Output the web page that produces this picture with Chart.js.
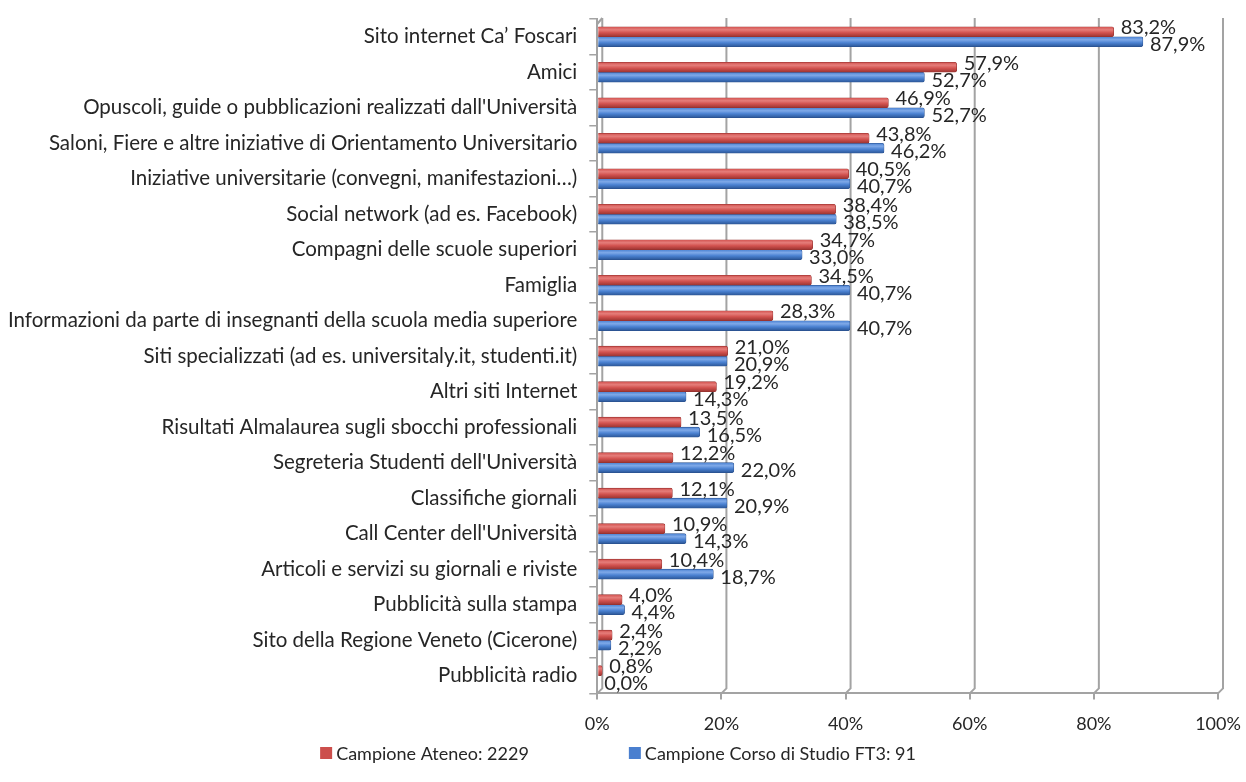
<!DOCTYPE html>
<html><head><meta charset="utf-8">
<script src="https://cdn.jsdelivr.net/npm/chart.js@4/dist/chart.umd.min.js"></script>
<style>html,body{margin:0;padding:0;background:#fff}#wrap{width:1246px;height:782px}</style>
</head><body><div id="wrap"><canvas id="c"></canvas></div>
<script>
const categories = [
  "Sito internet Ca’ Foscari",
  "Amici",
  "Opuscoli, guide o pubblicazioni realizzati dall'Università",
  "Saloni, Fiere e altre iniziative di Orientamento Universitario",
  "Iniziative universitarie (convegni, manifestazioni…)",
  "Social network (ad es. Facebook)",
  "Compagni delle scuole superiori",
  "Famiglia",
  "Informazioni da parte di insegnanti della scuola media superiore",
  "Siti specializzati (ad es. universitaly.it, studenti.it)",
  "Altri siti Internet",
  "Risultati Almalaurea sugli sbocchi professionali",
  "Segreteria Studenti dell'Università",
  "Classifiche giornali",
  "Call Center dell'Università",
  "Articoli e servizi su giornali e riviste",
  "Pubblicità sulla stampa",
  "Sito della Regione Veneto (Cicerone)",
  "Pubblicità radio"
];
const ateneo = [83.2,57.9,46.9,43.8,40.5,38.4,34.7,34.5,28.3,21.0,19.2,13.5,12.2,12.1,10.9,10.4,4.0,2.4,0.8];
const ft3    = [87.9,52.7,52.7,46.2,40.7,38.5,33.0,40.7,40.7,20.9,14.3,16.5,22.0,20.9,14.3,18.7,4.4,2.2,0.0];
const seriesNames = ["Campione Ateneo: 2229","Campione Corso di Studio FT3: 91"];
const xTicks = [0,20,40,60,80,100];

const FONT = "Lato";
const TXT = '#262626';
const GRID = '#a3a3a3';
const D = 5; // 3D depth offset
const BAR = 10;
const fmt = v => v.toFixed(1).replace('.', ',') + '%';

const palettes = [
  { base: '#cc4f4c', top: '#e57d7a', mid: '#d2524f', bot: '#9c3431', border: '#93302e' },
  { base: '#4a7fcf', top: '#7fa9e8', mid: '#4b82d2', bot: '#2b5697', border: '#2a508d' }
];

function barFill(c) {
  const p = palettes[c.datasetIndex];
  const chart = c.chart;
  const ys = chart.scales && chart.scales.y;
  if (!ys || !chart.chartArea || c.dataIndex === undefined) return p.base;
  const yc = ys.getPixelForValue(c.dataIndex) + (c.datasetIndex === 0 ? -BAR/2 : BAR/2);
  if (!isFinite(yc)) return p.base;
  const g = chart.ctx.createLinearGradient(0, yc - BAR/2, 0, yc + BAR/2);
  g.addColorStop(0, p.mid);
  g.addColorStop(0.3, p.top);
  g.addColorStop(0.6, p.mid);
  g.addColorStop(1, p.bot);
  return g;
}

const frame3d = {
  id: 'frame3d',
  beforeDatasetsDraw(chart) {
    const ctx = chart.ctx, a = chart.chartArea, xs = chart.scales.x;
    ctx.save();
    ctx.strokeStyle = GRID;
    ctx.lineWidth = 2;
    ctx.lineJoin = 'round';
    xTicks.forEach(v => {
      const x = xs.getPixelForValue(v);
      ctx.beginPath();
      ctx.moveTo(x + D, a.top - 1);
      ctx.lineTo(x + D, a.bottom - D);
      ctx.lineTo(x, a.bottom);
      ctx.stroke();
    });
    const x0 = xs.getPixelForValue(0);
    ctx.beginPath();
    ctx.moveTo(x0, a.top + D);
    ctx.lineTo(x0 + D, a.top - 1);
    ctx.stroke();
    ctx.restore();
  }
};

const labelPlugin = {
  id: 'vals',
  afterDatasetsDraw(chart) {
    const ctx = chart.ctx;
    ctx.save();
    ctx.font = '20px ' + FONT;
    ctx.fillStyle = TXT;
    ctx.textBaseline = 'middle';
    ctx.textAlign = 'left';
    chart.data.datasets.forEach((ds, di) => {
      const meta = chart.getDatasetMeta(di);
      meta.data.forEach((el, i) => {
        const dy = di === 0 ? -4 : 3;
        ctx.fillText(fmt(ds.data[i]), el.x + 7, el.y + dy);
      });
    });
    ctx.restore();
  }
};

const legendPlugin = {
  id: 'legend2',
  afterDraw(chart) {
    const ctx = chart.ctx;
    ctx.save();
    ctx.font = '18px ' + FONT;
    ctx.textBaseline = 'middle';
    ctx.textAlign = 'left';
    const box = 12, gapBT = 4, gapItems = 100, y = 753;
    const widths = seriesNames.map(s => box + gapBT + ctx.measureText(s).width);
    const total = widths[0] + gapItems + widths[1];
    let x = 618 - total / 2;
    seriesNames.forEach((s, i) => {
      ctx.fillStyle = palettes[i].base;
      ctx.fillRect(x, y - box / 2, box, box);
      ctx.fillStyle = TXT;
      ctx.fillText(s, x + box + gapBT, y + 1);
      x += widths[i] + gapItems;
    });
    ctx.restore();
  }
};

new Chart(document.getElementById('c'), {
  type: 'bar',
  data: {
    labels: categories,
    datasets: [
      { label: seriesNames[0], data: ateneo, backgroundColor: barFill, borderColor: palettes[0].border, borderWidth: 0.6, barThickness: BAR, borderRadius: 2, borderSkipped: 'start' },
      { label: seriesNames[1], data: ft3, backgroundColor: barFill, borderColor: palettes[1].border, borderWidth: 0.6, barThickness: BAR, borderRadius: 2, borderSkipped: 'start' }
    ]
  },
  options: {
    indexAxis: 'y',
    responsive: true,
    maintainAspectRatio: false,
    animation: false,
    layout: { padding: { top: 19, right: 28, left: -4, bottom: 33 } },
    plugins: {
      legend: { display: false },
      tooltip: { enabled: false }
    },
    scales: {
      x: {
        min: 0, max: 100,
        afterBuildTicks: s => { s.ticks = xTicks.map(v => ({ value: v })); },
        afterFit: s => { s.paddingLeft = 0; s.paddingRight = 0; },
        ticks: { callback: v => v + '%', font: { family: FONT, size: 18 }, color: TXT, padding: 14 },
        grid: { drawOnChartArea: false, color: GRID, lineWidth: 2, tickLength: 6, tickColor: GRID },
        border: { color: GRID, width: 2 }
      },
      y: {
        afterFit: s => { s.paddingTop = 0; s.paddingBottom = 0; },
        ticks: { font: { family: FONT, size: 20.5 }, color: TXT, padding: 12, autoSkip: false },
        grid: { offset: true, drawOnChartArea: false, tickLength: 8, color: GRID, lineWidth: 1.5 },
        border: { color: GRID, width: 2 }
      }
    }
  },
  plugins: [frame3d, labelPlugin, legendPlugin]
});
</script></body></html>
